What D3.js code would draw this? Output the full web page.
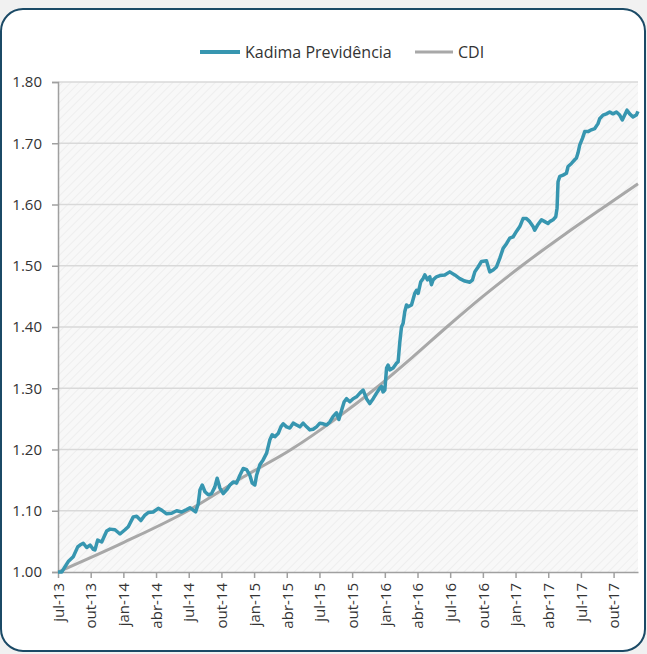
<!DOCTYPE html>
<html>
<head>
<meta charset="utf-8">
<script src="https://cdn.jsdelivr.net/npm/d3@7"></script>
<style>
  html, body { margin: 0; padding: 0; background: #f1f1f1; }
  svg { display: block; font-family: "Open Sans", sans-serif; }
</style>
</head>
<body>
<svg id="chart" width="647" height="654"></svg>
<script>
// ---- Data (x = months since Jul-2013) ----
const tickLabels = ["jul-13","out-13","jan-14","abr-14","jul-14","out-14","jan-15","abr-15","jul-15","out-15","jan-16","abr-16","jul-16","out-16","jan-17","abr-17","jul-17","out-17"];
const yTicks = [1.00, 1.10, 1.20, 1.30, 1.40, 1.50, 1.60, 1.70, 1.80];
const seriesNames = ["Kadima Previdência", "CDI"];

const kadimaMonths = [0,0.34,0.94,1.40,1.81,2.02,2.32,2.63,2.94,3.24,3.39,3.64,4.01,4.47,4.77,5.23,5.69,6.15,6.45,6.91,7.22,7.61,7.98,8.28,8.74,9.20,9.51,9.97,10.43,10.89,11.35,11.81,12.11,12.41,12.63,12.87,13.03,13.24,13.49,13.79,14.10,14.40,14.61,14.86,15.17,15.48,15.78,16.08,16.39,16.70,17.00,17.31,17.61,17.83,18.07,18.23,18.53,18.83,19.15,19.45,19.66,19.91,20.21,20.46,20.67,20.98,21.28,21.59,21.90,22.20,22.50,22.82,23.12,23.42,23.73,24.04,24.34,24.65,24.95,25.26,25.57,25.78,26.03,26.27,26.49,26.79,27.09,27.40,27.71,28.01,28.32,28.62,28.93,29.24,29.54,29.70,29.84,30.00,30.16,30.30,30.46,30.76,31.07,31.22,31.38,31.53,31.68,31.83,31.99,32.14,32.45,32.75,32.91,33.06,33.30,33.51,33.67,33.92,34.13,34.28,34.43,34.74,35.05,35.50,35.96,36.42,36.88,37.34,37.80,38.05,38.26,38.56,38.87,39.33,39.63,39.94,40.25,40.55,40.85,41.17,41.47,41.77,42.08,42.39,42.69,43.00,43.30,43.61,43.76,44.01,44.38,44.68,44.98,45.14,45.44,45.69,45.81,45.90,46.06,46.36,46.67,46.82,47.13,47.43,47.59,47.73,47.89,48.14,48.35,48.65,48.96,49.27,49.57,49.72,50.03,50.34,50.64,50.94,51.26,51.56,51.80,52.02,52.23,52.48,52.78,53.09,53.24];
const kadimaValues = [1.000,1.000,1.017,1.025,1.041,1.044,1.047,1.040,1.044,1.037,1.036,1.052,1.049,1.067,1.070,1.069,1.062,1.069,1.074,1.090,1.091,1.084,1.093,1.097,1.098,1.104,1.101,1.095,1.096,1.100,1.098,1.102,1.105,1.101,1.098,1.111,1.134,1.142,1.131,1.126,1.128,1.139,1.153,1.137,1.128,1.134,1.142,1.147,1.145,1.158,1.169,1.167,1.158,1.145,1.142,1.158,1.175,1.183,1.194,1.216,1.224,1.221,1.226,1.237,1.242,1.237,1.235,1.243,1.240,1.237,1.243,1.237,1.232,1.233,1.237,1.243,1.242,1.240,1.245,1.254,1.260,1.249,1.264,1.278,1.283,1.278,1.283,1.286,1.292,1.297,1.283,1.275,1.283,1.292,1.300,1.303,1.294,1.297,1.333,1.338,1.330,1.333,1.341,1.343,1.376,1.400,1.406,1.425,1.436,1.433,1.436,1.455,1.460,1.455,1.474,1.479,1.485,1.477,1.482,1.469,1.477,1.482,1.484,1.485,1.490,1.485,1.479,1.475,1.473,1.477,1.490,1.498,1.507,1.508,1.490,1.493,1.498,1.512,1.528,1.536,1.545,1.547,1.556,1.564,1.577,1.577,1.572,1.564,1.558,1.566,1.575,1.572,1.569,1.572,1.575,1.580,1.594,1.637,1.646,1.648,1.651,1.662,1.667,1.673,1.676,1.684,1.697,1.708,1.719,1.719,1.722,1.724,1.732,1.740,1.746,1.748,1.751,1.748,1.751,1.746,1.738,1.746,1.754,1.748,1.743,1.746,1.752];

const cdiMonths = [0, 6, 11.93, 17, 21.4, 25.5, 29.17, 32.5, 35.69, 39, 42.57, 46.5, 50.46, 53.24];
const cdiValues = [1.000, 1.048, 1.100, 1.155, 1.200, 1.250, 1.300, 1.350, 1.400, 1.450, 1.500, 1.551, 1.600, 1.634];

const lastMonth = 53.24;

// ---- Layout ----
const svg = d3.select("#chart");
const plot = { left: 58, right: 638, top: 82, bottom: 572 };

// Card background with rounded border
svg.append("rect")
  .attr("x", 1).attr("y", 9).attr("width", 644).attr("height", 642)
  .attr("rx", 22).attr("ry", 22)
  .attr("fill", "#ffffff").attr("stroke", "#1b4a66").attr("stroke-width", 2);

// Hatch pattern
const defs = svg.append("defs");
const pat = defs.append("pattern").attr("id", "hatch")
  .attr("width", 6).attr("height", 6)
  .attr("patternUnits", "userSpaceOnUse")
  .attr("patternTransform", "rotate(45)");
pat.append("rect").attr("width", 6).attr("height", 6).attr("fill", "#f8f8f8");
pat.append("line").attr("x1", 0).attr("y1", 0).attr("x2", 0).attr("y2", 6)
  .attr("stroke", "#eeeeee").attr("stroke-width", 2);

const x = d3.scaleLinear().domain([0, lastMonth]).range([plot.left, plot.right]);
const y = d3.scaleLinear().domain([1.0, 1.8]).range([plot.bottom, plot.top]);

svg.append("rect")
  .attr("x", plot.left).attr("y", plot.top)
  .attr("width", plot.right - plot.left).attr("height", plot.bottom - plot.top)
  .attr("fill", "url(#hatch)");

// Gridlines
svg.append("g").selectAll("line").data(yTicks.slice(1)).join("line")
  .attr("x1", plot.left).attr("x2", plot.right)
  .attr("y1", d => y(d)).attr("y2", d => y(d))
  .attr("stroke", "#d9d9d9").attr("stroke-width", 1.5);

// Axes
const yAxis = svg.append("g").attr("transform", `translate(${plot.left},0)`)
  .call(d3.axisLeft(y).tickValues(yTicks).tickFormat(d3.format(".2f")).tickSize(6).tickPadding(10));
yAxis.selectAll("text").attr("font-size", 15).attr("fill", "#333").attr("font-family", "Open Sans");
yAxis.selectAll("line, path").attr("stroke", "#a0a0a0").attr("stroke-width", 1.5);

const xTickVals = tickLabels.map((_, i) => i * 3);
const xAxis = svg.append("g").attr("transform", `translate(0,${plot.bottom})`)
  .call(d3.axisBottom(x).tickValues(xTickVals).tickFormat((d, i) => tickLabels[i]).tickSize(6).tickSizeOuter(0));
xAxis.selectAll("line, path").attr("stroke", "#a0a0a0").attr("stroke-width", 1.5);
xAxis.selectAll("text")
  .attr("font-size", 15).attr("fill", "#333").attr("font-family", "Open Sans")
  .attr("text-anchor", "end")
  .attr("transform", "rotate(-90)")
  .attr("x", -11).attr("y", 0).attr("dy", "0.35em");

// Lines
const kadima = kadimaMonths.map((m, i) => [m, kadimaValues[i]]);
const cdi = cdiMonths.map((m, i) => [m, cdiValues[i]]);

svg.append("path").datum(cdi)
  .attr("fill", "none").attr("stroke", "#a8a8a8").attr("stroke-width", 3)
  .attr("d", d3.line().x(d => x(d[0])).y(d => y(d[1])).curve(d3.curveMonotoneX));

svg.append("path").datum(kadima)
  .attr("fill", "none").attr("stroke", "#3796b0").attr("stroke-width", 3.5)
  .attr("stroke-linejoin", "round")
  .attr("d", d3.line().x(d => x(d[0])).y(d => y(d[1])));

// Legend
const legend = svg.append("g");
const legItems = [
  { name: seriesNames[0], color: "#3796b0", x: 200, w: 40, sw: 4 },
  { name: seriesNames[1], color: "#a8a8a8", x: 415, w: 38, sw: 3 }
];
legItems.forEach(it => {
  legend.append("line").attr("x1", it.x).attr("x2", it.x + it.w).attr("y1", 52).attr("y2", 52)
    .attr("stroke", it.color).attr("stroke-width", it.sw);
  legend.append("text").attr("x", it.x + it.w + 5).attr("y", 52).attr("dy", "0.35em")
    .attr("font-size", 16).attr("fill", "#333").text(it.name);
});
</script>
</body>
</html>
